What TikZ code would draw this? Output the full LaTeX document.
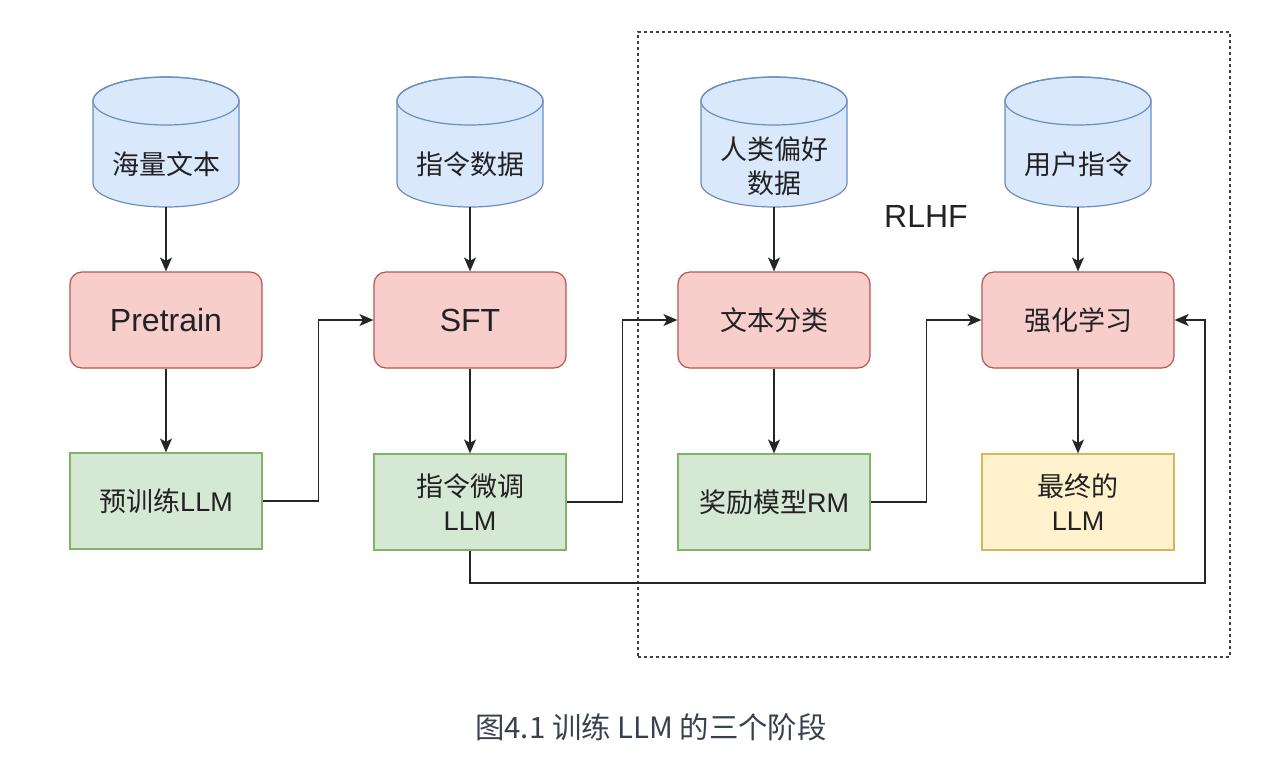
\documentclass[tikz,border=0pt]{standalone}
\usepackage{fontspec}
\setmainfont{Liberation Sans}
\newfontfamily\cjk{Noto Sans CJK SC}
\usetikzlibrary{arrows.meta}
\definecolor{bluefill}{HTML}{DAE8FC}
\definecolor{blueline}{HTML}{6C8EBF}
\definecolor{redfill}{HTML}{F8CECC}
\definecolor{redline}{HTML}{B85450}
\definecolor{greenfill}{HTML}{D5E8D4}
\definecolor{greenline}{HTML}{82B366}
\definecolor{yellowfill}{HTML}{FFF2CC}
\definecolor{yellowline}{HTML}{D6B656}
\definecolor{captioncol}{HTML}{37424E}
\definecolor{txtcol}{HTML}{222222}
\tikzset{
  cylfill/.style={fill=bluefill,draw=blueline,line width=0.6pt},
  cylbox/.style={draw=none,minimum width=73pt,minimum height=65pt,inner sep=0pt},
  lbl/.style={text=txtcol,align=center,font=\fontsize{13.5}{17}\selectfont,inner sep=0pt},
  bigl/.style={text=txtcol,align=center,font=\fontsize{16}{18}\selectfont,inner sep=0pt},
  procbox/.style={draw=redline,fill=redfill,line width=0.6pt,rounded corners=6pt,minimum width=96pt,minimum height=48pt,inner sep=0pt,text=txtcol,align=center,font=\fontsize{16}{18}\selectfont},
  cnbox/.style={procbox,font=\fontsize{13.5}{17}\selectfont},
  outbox/.style={draw=greenline,fill=greenfill,line width=0.6pt,minimum width=96pt,minimum height=48pt,inner sep=0pt,text=txtcol,align=center,font=\fontsize{13.5}{17}\selectfont},
  finalbox/.style={outbox,draw=yellowline,fill=yellowfill},
  arr/.style={draw=black!85,line width=0.75pt,-{Stealth[length=7pt,width=6pt,inset=1.8pt]}},
  dashbox/.style={draw=black!75,line width=0.6pt,dash pattern=on 1.5pt off 1.5pt,inner sep=0pt},
}
\newcommand{\drawcyl}[3]{%
  \path[cylfill] ({#1-73},{#2+24}) -- ({#1-73},{#3-24})
    arc[start angle=180,end angle=360,x radius=36.5pt,y radius=12pt]
    -- ({#1+73},{#2+24})
    arc[start angle=0,end angle=180,x radius=36.5pt,y radius=12pt] -- cycle;
  \draw[cylfill,fill=none] (#1,{#2+24}) ellipse[x radius=36.5pt,y radius=12pt];}
\begin{document}
\begin{tikzpicture}[x=0.5pt,y=-0.5pt]
\useasboundingbox (0,0) rectangle (1279,761);
% dashed RLHF region
\node[dashbox,minimum width=296pt,minimum height=312.5pt] (rlbox) at (934,344.5) {};
\node[bigl] (rlhf) at (926,216) {RLHF};
% cylinders
\drawcyl{166}{77}{207}
\drawcyl{470}{77}{207}
\drawcyl{774}{77}{207}
\drawcyl{1078}{77}{207}
\node[cylbox] (d1) at (166,142) {};
\node[cylbox] (d2) at (470,142) {};
\node[cylbox] (d3) at (774,142) {};
\node[cylbox] (d4) at (1078,142) {};
\node[lbl] (d1t) at (166,164) {\cjk 海量文本};
\node[lbl] (d2t) at (470,164) {\cjk 指令数据};
\node[lbl] (d3t) at (774,166) {\cjk 人类偏好\\\cjk 数据};
\node[lbl] (d4t) at (1078,164) {\cjk 用户指令};
% process boxes
\node[procbox] (p1) at (166,320) {Pretrain};
\node[procbox] (p2) at (470,320) {SFT};
\node[cnbox] (p3) at (774,320) {\cjk 文本分类};
\node[cnbox] (p4) at (1078,320) {\cjk 强化学习};
% outputs
\node[outbox] (g1) at (166,501) {{\cjk 预训练}LLM};
\node[outbox] (g2) at (470,502) {{\cjk 指令微调}\\LLM};
\node[outbox] (g3) at (774,502) {{\cjk 奖励模型}RM};
\node[finalbox] (g4) at (1078,502) {{\cjk 最终的}\\LLM};
% arrows
\draw[arr] (d1.south) -- (p1.north);
\draw[arr] (d2.south) -- (p2.north);
\draw[arr] (d3.south) -- (p3.north);
\draw[arr] (d4.south) -- (p4.north);
\draw[arr] (p1.south) -- (g1.north);
\draw[arr] (p2.south) -- (g2.north);
\draw[arr] (p3.south) -- (g3.north);
\draw[arr] (p4.south) -- (g4.north);
\draw[arr] (g1.east) -- ++(56,0) |- (p2.west);
\draw[arr] (g2.east) -- ++(56,0) |- (p3.west);
\draw[arr] (g3.east) -- ++(56,0) |- (p4.west);
\coordinate (fb) at (1205,583);
\draw[arr] (g2.south) |- (fb) |- (p4.east);
% caption
\node[text=captioncol,font=\cjk\fontsize{14.7}{18}\selectfont,inner sep=0pt] (cap) at (651,727) {图4.1 训练 LLM 的三个阶段};
\end{tikzpicture}
\end{document}
